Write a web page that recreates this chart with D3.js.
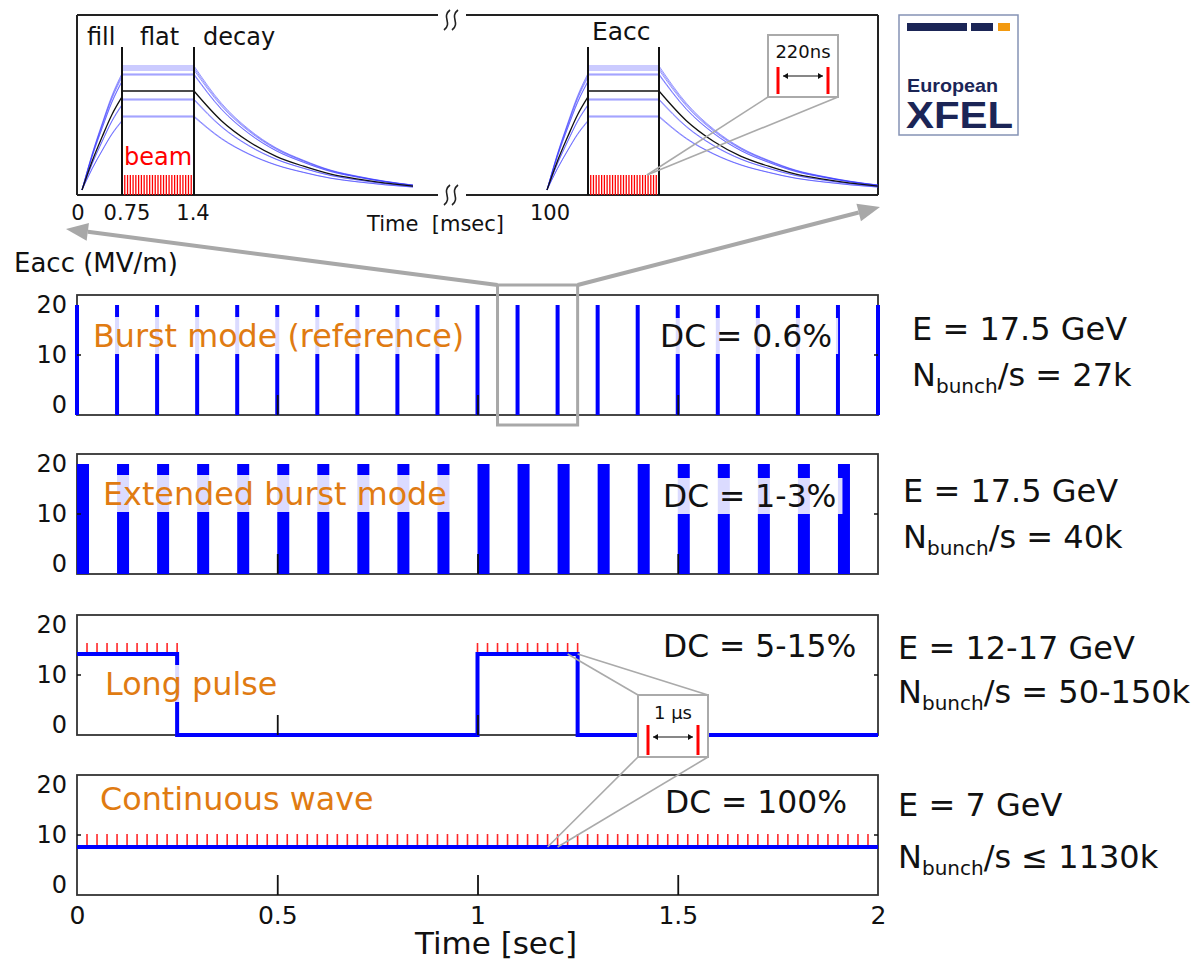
<!DOCTYPE html>
<html>
<head>
<meta charset="utf-8">
<script src="https://cdn.jsdelivr.net/npm/d3@7"></script>
<style>
  body { margin: 0; background: #fff; }
  svg { font-family: "DejaVu Sans", sans-serif; }
</style>
</head>
<body>
<div id="vis"></div>
<script>
// ---------- data ----------
var timeTicks = [0, 0.5, 1, 1.5, 2];
var timeTickLabels = ['0', '0.5', '1', '1.5', '2'];
var eaccTicks = [0, 10, 20];

var modeNames = ['Burst mode (reference)', 'Extended burst mode', 'Long pulse', 'Continuous wave'];
var dutyCycles = ['DC = 0.6%', 'DC = 1-3%', 'DC = 5-15%', 'DC = 100%'];
var beamEnergies = ['E = 17.5 GeV', 'E = 17.5 GeV', 'E = 12-17 GeV', 'E = 7 GeV'];
var bunchRates = ['/s = 27k', '/s = 40k', '/s = 50-150k', '/s \u2264 1130k'];

// burst mode: 10 Hz pulses at 20 MV/m
var burstTimes = [0, 0.1, 0.2, 0.3, 0.4, 0.5, 0.6, 0.7, 0.8, 0.9, 1.0,
                  1.1, 1.2, 1.3, 1.4, 1.5, 1.6, 1.7, 1.8, 1.9, 2.0];
var burstEacc = 20;
// extended burst mode: longer pulses (sec)
var extBurstTimes = [0, 0.1, 0.2, 0.3, 0.4, 0.5, 0.6, 0.7, 0.8, 0.9,
                     1.0, 1.1, 1.2, 1.3, 1.4, 1.5, 1.6, 1.7, 1.8, 1.9];
var extBurstLength = 0.03;
var extBurstEacc = 20;
// long pulse: step trace
var longPulseT = [0, 0.25, 0.25, 1, 1, 1.25, 1.25, 2];
var longPulseE = [14.2, 14.2, -2, -2, 14.2, 14.2, -2, -2];
var longPulseBunches = [0.025, 0.05, 0.075, 0.1, 0.125, 0.15, 0.175, 0.2, 0.225, 0.25,
                        1.0, 1.025, 1.05, 1.075, 1.1, 1.125, 1.15, 1.175, 1.2, 1.225, 1.25];
// continuous wave
var cwT = [0, 2];
var cwE = [7.6, 7.6];
var cwBunches = [0.025, 0.05, 0.075, 0.1, 0.125, 0.15, 0.175, 0.2, 0.225, 0.25, 0.275, 0.3,
  0.325, 0.35, 0.375, 0.4, 0.425, 0.45, 0.475, 0.5, 0.525, 0.55, 0.575, 0.6, 0.625, 0.65,
  0.675, 0.7, 0.725, 0.75, 0.775, 0.8, 0.825, 0.85, 0.875, 0.9, 0.925, 0.95, 0.975, 1,
  1.025, 1.05, 1.075, 1.1, 1.125, 1.15, 1.175, 1.2, 1.225, 1.25, 1.275, 1.3, 1.325, 1.35,
  1.375, 1.4, 1.425, 1.45, 1.475, 1.5, 1.525, 1.55, 1.575, 1.6, 1.625, 1.65, 1.675, 1.7,
  1.725, 1.75, 1.775, 1.8, 1.825, 1.85, 1.875, 1.9, 1.925, 1.95, 1.975];

// inset: one RF pulse (msec)
var insetTicks = [0, 0.75, 1.4];
var insetTickLabels = ['0', '0.75', '1.4'];
var fillT = [0, 0.19, 0.38, 0.56, 0.75];
var fillShape = [0, 0.29, 0.54, 0.76, 0.94];
var decayT = [1.4, 1.65, 1.9, 2.15, 2.4, 2.65, 2.9, 3.15, 3.4];
var decayShape = [1, 0.70, 0.49, 0.34, 0.24, 0.16, 0.11, 0.07, 0.04];
var cavityGradients = [24.8, 24.4, 24.0, 23.2, 23.0, 18.2, 18.0, 14.8, 14.6];
var meanGradient = 19.8;
var beamBunchT = [0.75, 0.775, 0.8, 0.825, 0.85, 0.875, 0.9, 0.925, 0.95, 0.975, 1.0,
  1.025, 1.05, 1.075, 1.1, 1.125, 1.15, 1.175, 1.2, 1.225, 1.25, 1.275, 1.3, 1.325,
  1.35, 1.375, 1.4];

// ---------- layout ----------
var width = 1200, height = 962;
var panelTops = [295, 454, 615, 775];
var panelH = 120;
var BLUE = '#0000ff', RED = '#ff0000', ORANGE = '#e07b12', GREY = '#a8a8a8';

var svg = d3.select('#vis').append('svg')
  .attr('width', width).attr('height', height);

var x = d3.scaleLinear().domain([0, 2]).range([77, 878]);

function yScale(i) {
  return d3.scaleLinear().domain([-2, 22]).range([panelTops[i] + panelH, panelTops[i]]);
}

function textBox(g, str, px, py, color, size) {
  var t = g.append('text').attr('x', px).attr('y', py)
    .attr('fill', color).style('font-size', size + 'px').text(str);
  var bb = t.node().getBBox();
  g.insert('rect', function () { return t.node(); })
    .attr('x', bb.x - 6).attr('y', bb.y).attr('width', bb.width + 12).attr('height', bb.height)
    .attr('fill', '#fff').attr('fill-opacity', 0.86);
  return t;
}

var labelX = [93, 103, 105, 100];
var labelY = [347, 505, 695, 810];
var dcX = [660, 663, 663, 665];
var dcY = [347, 507, 657, 813];
var rightX = [912, 903, 898, 898];
var rightY1 = [340, 502, 659, 816];
var rightY2 = [386, 548, 703, 868];

panelTops.forEach(function (top, i) {
  var y = yScale(i);
  var g = svg.append('g').attr('class', 'panel');

  g.append('rect').attr('x', x(0)).attr('y', top)
    .attr('width', x(2) - x(0)).attr('height', panelH)
    .attr('fill', 'none').attr('stroke', '#333').attr('stroke-width', 1.8);

  var data = g.append('g');
  if (i === 0) {
    data.selectAll('line').data(burstTimes).enter().append('line')
      .attr('x1', function (d) { return x(d); }).attr('x2', function (d) { return x(d); })
      .attr('y1', y(burstEacc)).attr('y2', y(-2))
      .attr('stroke', BLUE).attr('stroke-width', 4);
  } else if (i === 1) {
    data.selectAll('rect').data(extBurstTimes).enter().append('rect')
      .attr('x', function (d) { return x(d); })
      .attr('width', function (d) { return x(d + extBurstLength) - x(d); })
      .attr('y', y(extBurstEacc)).attr('height', y(-2) - y(extBurstEacc))
      .attr('fill', BLUE);
  } else if (i === 2) {
    data.selectAll('line').data(longPulseBunches).enter().append('line')
      .attr('x1', function (d) { return x(d); }).attr('x2', function (d) { return x(d); })
      .attr('y1', y(longPulseE[0])).attr('y2', y(longPulseE[0]) - 11)
      .attr('stroke', RED).attr('stroke-width', 1.6).attr('stroke-opacity', 0.85);
    var lp = d3.line().x(function (d) { return x(d[0]); }).y(function (d) { return y(d[1]); });
    data.append('path').datum(d3.zip(longPulseT, longPulseE)).attr('d', lp)
      .attr('fill', 'none').attr('stroke', BLUE).attr('stroke-width', 4);
  } else {
    data.selectAll('line').data(cwBunches).enter().append('line')
      .attr('x1', function (d) { return x(d); }).attr('x2', function (d) { return x(d); })
      .attr('y1', y(cwE[0])).attr('y2', y(cwE[0]) - 13)
      .attr('stroke', RED).attr('stroke-width', 1.6).attr('stroke-opacity', 0.85);
    var cw = d3.line().x(function (d) { return x(d[0]); }).y(function (d) { return y(d[1]); });
    data.append('path').datum(d3.zip(cwT, cwE)).attr('d', cw)
      .attr('fill', 'none').attr('stroke', BLUE).attr('stroke-width', 4);
  }

  // labels with translucent white boxes
  textBox(g, modeNames[i], labelX[i], labelY[i], ORANGE, 31.8);
  textBox(g, dutyCycles[i], dcX[i], dcY[i], '#111', 31.4);

  // inner ticks at bottom
  var tx = d3.axisBottom(x).tickValues([0.5, 1, 1.5]).tickSize(-20).tickFormat('');
  var gx = g.append('g').attr('transform', 'translate(0,' + (top + panelH) + ')').call(tx);
  gx.select('.domain').remove();
  gx.selectAll('line').attr('stroke', '#111').attr('stroke-width', 1.8);

  // y labels
  var ty = d3.axisLeft(y).tickValues(eaccTicks).tickSize(0).tickPadding(10);
  var gy = g.append('g').attr('transform', 'translate(' + x(0) + ',0)').call(ty);
  gy.select('.domain').remove();
  gy.selectAll('text').style('font-size', '24px')
    .style('font-family', '"DejaVu Sans", sans-serif').attr('fill', '#111');
  g.append('line').attr('x1', x(0)).attr('x2', x(0) + 4).attr('y1', y(10)).attr('y2', y(10))
    .attr('stroke', '#111').attr('stroke-width', 1.5);
  g.append('line').attr('x1', x(2) - 4).attr('x2', x(2)).attr('y1', y(10)).attr('y2', y(10))
    .attr('stroke', '#111').attr('stroke-width', 1.5);

  // right-hand annotations
  svg.append('text').attr('x', rightX[i]).attr('y', rightY1[i])
    .style('font-size', '32px').attr('fill', '#111').text(beamEnergies[i]);
  var nt = svg.append('text').attr('x', rightX[i]).attr('y', rightY2[i])
    .style('font-size', '32px').attr('fill', '#111');
  nt.append('tspan').text('N');
  nt.append('tspan').attr('dy', 7).style('font-size', '20px').text('bunch');
  nt.append('tspan').attr('dy', -7).text(bunchRates[i]);
});

// bottom time axis
var xAxis = d3.axisBottom(x).tickValues(timeTicks).tickSize(0).tickPadding(11)
  .tickFormat(function (d, k) { return timeTickLabels[k]; });
var gAxis = svg.append('g').attr('transform', 'translate(0,' + (panelTops[3] + panelH) + ')').call(xAxis);
gAxis.select('.domain').remove();
gAxis.selectAll('text').style('font-size', '25px')
  .style('font-family', '"DejaVu Sans", sans-serif').attr('fill', '#111');
svg.append('text').attr('x', 496).attr('y', 954).attr('text-anchor', 'middle')
  .style('font-size', '31px').attr('fill', '#111').text('Time [sec]');

svg.append('text').attr('x', 14).attr('y', 272)
  .style('font-size', '26px').attr('fill', '#111').text('Eacc (MV/m)');

// ---------- inset: single RF pulse ----------
var inset = svg.append('g');
var xIL = d3.scaleLinear().domain([0, 0.75, 1.4, 3.4]).range([82, 122, 194, 413]);
var xIR = d3.scaleLinear().domain([0, 0.75, 1.4, 3.4]).range([547, 588, 659, 878]);
var yI = d3.scaleLinear().domain([-1, 29]).range([195, 45]);
var insetTop = 15, insetBot = 195, insetL = 77, insetR = 878, gapL = 438, gapR = 466;

[[insetL, insetTop, gapL, insetTop], [gapR, insetTop, insetR, insetTop],
 [insetL, insetBot, gapL, insetBot], [gapR, insetBot, insetR, insetBot],
 [insetL, insetTop, insetL, insetBot], [insetR, insetTop, insetR, insetBot]].forEach(function (s) {
  inset.append('line').attr('x1', s[0]).attr('y1', s[1]).attr('x2', s[2]).attr('y2', s[3])
    .attr('stroke', '#222').attr('stroke-width', 2);
});
// axis-break squiggles
[insetTop + 5, insetBot].forEach(function (cy) {
  [447, 455].forEach(function (cx) {
    var p = d3.path();
    p.moveTo(cx + 3, cy - 10);
    p.bezierCurveTo(cx - 6, cy - 3, cx + 6, cy + 3, cx - 3, cy + 10);
    inset.append('path').attr('d', p.toString()).attr('fill', 'none')
      .attr('stroke', '#222').attr('stroke-width', 1.6);
  });
});

function drawPulse(xs) {
  var g = inset.append('g');
  // beam bunches
  g.selectAll('line.bunch').data(beamBunchT).enter().append('line').attr('class', 'bunch')
    .attr('x1', function (d) { return xs(d); }).attr('x2', function (d) { return xs(d); })
    .attr('y1', yI(-1)).attr('y2', yI(3))
    .attr('stroke', RED).attr('stroke-width', 1.3);
  var curve = d3.line().x(function (d) { return xs(d[0]); }).y(function (d) { return yI(d[1]); })
    .curve(d3.curveMonotoneX);
  function trace(gr, color, w, op) {
    var fill = fillT.map(function (t, k) { return [t, gr * fillShape[k]]; });
    var decay = decayT.map(function (t, k) { return [t, gr * decayShape[k]]; });
    [fill, [[0.75, gr], [1.4, gr]], decay].forEach(function (seg) {
      g.append('path').datum(seg).attr('d', curve).attr('fill', 'none')
        .attr('stroke', color).attr('stroke-width', w).attr('stroke-opacity', op);
    });
  }
  cavityGradients.forEach(function (gr) { trace(gr, '#3030ff', 1, 0.5); });
  trace(meanGradient, '#111', 1.3, 1);
  [0.75, 1.4].forEach(function (t) {
    g.append('line').attr('x1', xs(t)).attr('x2', xs(t)).attr('y1', yI(28.6)).attr('y2', yI(-1))
      .attr('stroke', '#111').attr('stroke-width', 2);
  });
}
drawPulse(xIL);
drawPulse(xIR);

var insetLabelDx = [-4, 5, -1];
insetTicks.forEach(function (t, k) {
  inset.append('text').attr('x', xIL(t) + insetLabelDx[k]).attr('y', 220).attr('text-anchor', 'middle')
    .style('font-size', '21px').attr('fill', '#111').text(insetTickLabels[k]);
});
inset.append('text').attr('x', xIR(0) + 3).attr('y', 220).attr('text-anchor', 'middle')
  .style('font-size', '21px').attr('fill', '#111').text('100');
inset.append('text').attr('x', 367).attr('y', 231)
  .style('font-size', '21px').attr('fill', '#111').attr('xml:space', 'preserve').text('Time  [msec]');

inset.append('text').attr('x', 87).attr('y', 45).style('font-size', '24px').attr('fill', '#111').text('fill');
inset.append('text').attr('x', 140).attr('y', 45).style('font-size', '24px').attr('fill', '#111').text('flat');
inset.append('text').attr('x', 203).attr('y', 45).style('font-size', '24px').attr('fill', '#111').text('decay');
inset.append('text').attr('x', 592).attr('y', 40).style('font-size', '25px').attr('fill', '#111').text('Eacc');
inset.append('text').attr('x', (xIL(0.75) + xIL(1.4)) / 2).attr('y', 165).attr('text-anchor', 'middle')
  .style('font-size', '24px').attr('fill', RED).text('beam');

// ---------- callouts ----------
function callout(bx, by, bw, bh, label, labelY, barTop, barBot, arrowY) {
  svg.append('rect').attr('x', bx).attr('y', by).attr('width', bw).attr('height', bh)
    .attr('fill', '#fff').attr('stroke', '#aaa').attr('stroke-width', 2);
  svg.append('text').attr('x', bx + bw / 2).attr('y', labelY).attr('text-anchor', 'middle')
    .style('font-size', '18px').attr('fill', '#111').text(label);
  [bx + 10, bx + bw - 10].forEach(function (bxx) {
    svg.append('line').attr('x1', bxx).attr('x2', bxx).attr('y1', barTop).attr('y2', barBot)
      .attr('stroke', RED).attr('stroke-width', 3);
  });
  var x1 = bx + 15, x2 = bx + bw - 15;
  svg.append('line').attr('x1', x1).attr('x2', x2).attr('y1', arrowY).attr('y2', arrowY)
    .attr('stroke', '#111').attr('stroke-width', 1.2);
  [[x1, 1], [x2, -1]].forEach(function (a) {
    svg.append('path').attr('d', 'M' + a[0] + ',' + arrowY + 'l' + (5 * a[1]) + ',-3v6z').attr('fill', '#111');
  });
}

function greyLine(p, q) {
  svg.append('line').attr('x1', p[0]).attr('y1', p[1]).attr('x2', q[0]).attr('y2', q[1])
    .attr('stroke', '#aaa').attr('stroke-width', 1.6);
}

// 220 ns callout on the inset
var anchorI = [xIR(1.29), yI(3)];
greyLine(anchorI, [768, 97]);
greyLine(anchorI, [838, 97]);
callout(768, 35, 70, 62, '220ns', 58, 67, 94, 76);

// 1 us callout between long pulse and CW
var y2s = yScale(2), y3s = yScale(3);
greyLine([x(1.225), y2s(longPulseE[4])], [638, 695]);
greyLine([x(1.25), y2s(longPulseE[4])], [708, 695]);
greyLine([x(1.175), y3s(cwE[0])], [638, 757]);
greyLine([x(1.2), y3s(cwE[0])], [708, 757]);
callout(638, 695, 70, 62, '1 \u00b5s', 719, 725, 755, 737);

// zoom box and arrows to inset
svg.append('rect').attr('x', x(1.05)).attr('y', panelTops[0] - 10)
  .attr('width', x(1.25) - x(1.05)).attr('height', panelH + 20)
  .attr('fill', 'none').attr('stroke', GREY).attr('stroke-width', 3);

function bigArrow(p, q) {
  var dx = q[0] - p[0], dy = q[1] - p[1], L = Math.sqrt(dx * dx + dy * dy);
  var ux = dx / L, uy = dy / L, hl = 22, hw = 9;
  var bxp = q[0] - ux * hl, byp = q[1] - uy * hl;
  svg.append('line').attr('x1', p[0]).attr('y1', p[1]).attr('x2', bxp).attr('y2', byp)
    .attr('stroke', GREY).attr('stroke-width', 4);
  svg.append('path').attr('d', 'M' + q[0] + ',' + q[1] +
    'L' + (bxp - uy * hw) + ',' + (byp + ux * hw) +
    'L' + (bxp + uy * hw) + ',' + (byp - ux * hw) + 'Z').attr('fill', GREY);
}
bigArrow([x(1.05), panelTops[0] - 10], [66, 229]);
bigArrow([x(1.25), panelTops[0] - 10], [880, 207]);

// ---------- European XFEL logo ----------
var logo = svg.append('g');
var NAVY = '#1b2556';
logo.append('rect').attr('x', 899).attr('y', 15).attr('width', 119).attr('height', 120)
  .attr('fill', '#fff').attr('stroke', '#8593b5').attr('stroke-width', 1.5);
logo.append('rect').attr('x', 907).attr('y', 23).attr('width', 60).attr('height', 8).attr('fill', NAVY);
logo.append('rect').attr('x', 971).attr('y', 23).attr('width', 22).attr('height', 8).attr('fill', NAVY);
logo.append('rect').attr('x', 998).attr('y', 23).attr('width', 12).attr('height', 8).attr('fill', '#f39a10');
logo.append('text').attr('x', 907).attr('y', 92).attr('textLength', 91).attr('lengthAdjust', 'spacingAndGlyphs')
  .style('font-family', '"Liberation Sans", Arial, sans-serif').style('font-weight', 'bold')
  .style('font-size', '19px').attr('fill', NAVY).text('European');
logo.append('text').attr('x', 906).attr('y', 128).attr('textLength', 107).attr('lengthAdjust', 'spacingAndGlyphs')
  .style('font-family', '"Liberation Sans", Arial, sans-serif').style('font-weight', 'bold')
  .style('font-size', '36px').attr('fill', NAVY).text('XFEL');
</script>
</body>
</html>
